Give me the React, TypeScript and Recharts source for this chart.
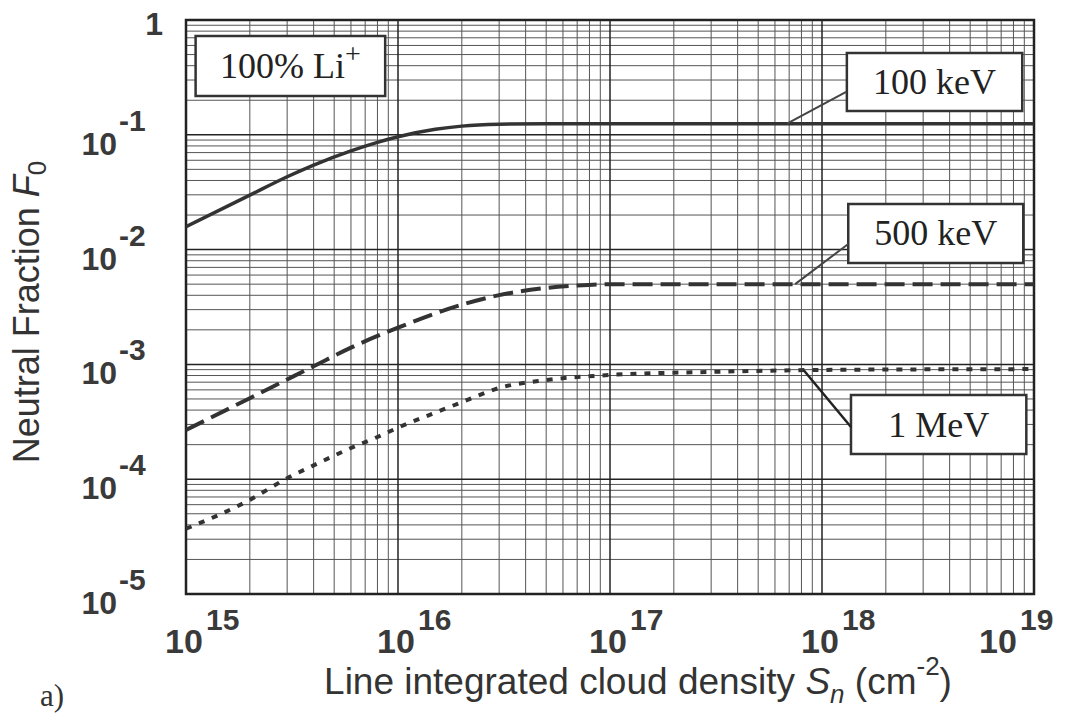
import React from 'react';
import {
  LineChart,
  Line,
  XAxis,
  YAxis,
  ReferenceArea,
  ReferenceLine,
  Label,
} from 'recharts';

// Line integrated cloud density (cm^-2) samples for each beam energy
const density100keV = [1e15, 2e15, 3e15, 4e15, 6e15, 8e15, 1e16, 1.5e16, 2e16, 3e16, 5e16, 1e17, 1e18, 1e19];
const fraction100keV = [0.0158, 0.0298, 0.0431, 0.0545, 0.0724, 0.0859, 0.0961, 0.1116, 0.119, 0.1236, 0.125, 0.125, 0.125, 0.125];

const density500keV = [1e15, 2e15, 3e15, 4e15, 6e15, 1e16, 2e16, 3e16, 5e16, 7e16, 1e17, 1e18, 1e19];
const fraction500keV = [2.68e-4, 5.08e-4, 7.39e-4, 9.64e-4, 1.4e-3, 2.09e-3, 3.31e-3, 4.01e-3, 4.63e-3, 4.87e-3, 5.0e-3, 5.0e-3, 5.0e-3];

const density1MeV = [1e15, 2e15, 3e15, 4e15, 6e15, 8e15, 1e16, 1.5e16, 2e16, 3e16, 5e16, 1e17, 3e17, 1e18, 1e19];
const fraction1MeV = [3.7e-5, 6.6e-5, 1.02e-4, 1.32e-4, 1.87e-4, 2.33e-4, 2.81e-4, 3.8e-4, 4.69e-4, 6.23e-4, 7.31e-4, 8.09e-4, 8.6e-4, 8.95e-4, 9.1e-4];

// decade ticks
const xTicks = [1e15, 1e16, 1e17, 1e18, 1e19];
const yTicks = [1e-5, 1e-4, 1e-3, 1e-2, 1e-1, 1];

// minor grid: 2..9 inside every decade
const minorSteps = [2, 3, 4, 5, 6, 7, 8, 9];
const xMinor = xTicks.slice(0, -1).flatMap((d) => minorSteps.map((k) => k * d));
const yMinor = yTicks.slice(0, -1).flatMap((d) => minorSteps.map((k) => k * d));

const toPoints = (s: number[], f: number[]) => s.map((v, i) => ({ s: v, f: f[i] }));

const INK = '#333';
const SANS = '"Liberation Sans", Arial, sans-serif';
const SERIF = '"Liberation Serif", "Times New Roman", serif';

const XTick = ({ x, y, payload }: any) => {
  const e = Math.round(Math.log10(payload.value));
  return (
    <g fill="#3a3a3a" fontFamily={SANS} fontWeight="bold">
      <text x={x - 2} y={y + 59} textAnchor="middle" fontSize={34}>10</text>
      <text x={x + 20} y={y + 36} fontSize={30}>{e}</text>
    </g>
  );
};

const YTick = ({ x, y, payload }: any) => {
  const e = Math.round(Math.log10(payload.value));
  if (e === 0) {
    return (
      <text x={x - 23} y={y + 15} textAnchor="end" fontSize={32} fontWeight="bold" fontFamily={SANS} fill="#3a3a3a">
        1
      </text>
    );
  }
  return (
    <g fill="#3a3a3a" fontFamily={SANS} fontWeight="bold">
      <text x={x - 69} y={y + 20} textAnchor="end" fontSize={32}>10</text>
      <text x={x - 67} y={y - 4} fontSize={30}>{e}</text>
    </g>
  );
};

const boxText = (text: string, sup?: string) => (props: any) => {
  const { x, y, width, height } = props.viewBox;
  return (
    <text
      x={x + width / 2}
      y={y + height / 2 + 12}
      textAnchor="middle"
      fontFamily={SERIF}
      fontSize={36}
      fill="#222"
    >
      {text}
      {sup && (
        <tspan dy={-15} fontSize={28}>
          {sup}
        </tspan>
      )}
    </text>
  );
};

const XTitle = () => (
  <g fill={INK}>
    <text x={638} y={694} textAnchor="middle" fontFamily={SANS} fontSize={37}>
      Line integrated cloud density{' '}
      <tspan fontStyle="italic">S</tspan>
      <tspan fontStyle="italic" fontSize={26} dy={9}>n</tspan>
      <tspan dy={-9}> (cm</tspan>
      <tspan fontSize={26} dy={-19}>-2</tspan>
      <tspan dy={19}>)</tspan>
    </text>
    <text x={40} y={706} fontFamily={SERIF} fontSize={31}>a)</text>
  </g>
);

const YTitle = () => (
  <text
    x={39}
    y={312}
    transform="rotate(-90, 39, 312)"
    textAnchor="middle"
    fontFamily={SANS}
    fontSize={36}
    fill={INK}
  >
    Neutral Fraction <tspan fontStyle="italic">F</tspan>
    <tspan fontSize={26} dy={7}>0</tspan>
  </text>
);

export default function App() {
  return (
    <div style={{ position: 'absolute', left: 0, top: 0, width: 1080, height: 722, background: '#fff' }}>
      <LineChart width={1080} height={722} margin={{ top: 20, right: 46, bottom: 0, left: 0 }}>
        <XAxis
          dataKey="s"
          type="number"
          scale="log"
          domain={[1e15, 1e19]}
          ticks={xTicks}
          allowDataOverflow
          height={128}
          axisLine={false}
          tickLine={false}
          tickSize={0}
          tickMargin={0}
          tick={<XTick />}
        >
          <Label content={<XTitle />} />
        </XAxis>
        <YAxis
          dataKey="f"
          type="number"
          scale="log"
          domain={[1e-5, 1]}
          ticks={yTicks}
          allowDataOverflow
          width={186}
          axisLine={false}
          tickLine={false}
          tickSize={0}
          tickMargin={0}
          tick={<YTick />}
        >
          <Label content={<YTitle />} />
        </YAxis>

        {/* log grid: minor lines, then decade lines */}
        {xMinor.map((v) => (
          <ReferenceLine key={`xm${v}`} x={v} stroke="#555" strokeWidth={1} zIndex={-100} />
        ))}
        {yMinor.map((v) => (
          <ReferenceLine key={`ym${v}`} y={v} stroke="#555" strokeWidth={1} zIndex={-100} />
        ))}
        {xTicks.map((v) => (
          <ReferenceLine key={`xM${v}`} x={v} stroke="#222" strokeWidth={1.5} zIndex={-100} />
        ))}
        {yTicks.map((v) => (
          <ReferenceLine key={`yM${v}`} y={v} stroke="#222" strokeWidth={1.5} zIndex={-100} />
        ))}

        <Line
          data={toPoints(density100keV, fraction100keV)}
          dataKey="f"
          type="monotone"
          stroke={INK}
          strokeWidth={3.5}
          dot={false}
          isAnimationActive={false}
        />
        <Line
          data={toPoints(density500keV, fraction500keV)}
          dataKey="f"
          type="monotone"
          stroke={INK}
          strokeWidth={4}
          strokeDasharray="20 8"
          dot={false}
          isAnimationActive={false}
        />
        <Line
          data={toPoints(density1MeV, fraction1MeV)}
          dataKey="f"
          type="monotone"
          stroke={INK}
          strokeWidth={4}
          strokeDasharray="6 8"
          dot={false}
          isAnimationActive={false}
        />

        {/* leader lines from the curve labels */}
        <ReferenceLine segment={[{ x: 1.3e18, y: 0.236 }, { x: 6.84e17, y: 0.125 }]} stroke="#444" strokeWidth={2} />
        <ReferenceLine segment={[{ x: 1.33e18, y: 0.0112 }, { x: 7.47e17, y: 5.0e-3 }]} stroke="#444" strokeWidth={2} />
        <ReferenceLine segment={[{ x: 1.37e18, y: 2.85e-4 }, { x: 8.2e17, y: 8.9e-4 }]} stroke="#222" strokeWidth={2.5} />

        {/* label boxes */}
        <ReferenceArea x1={1.11e15} x2={8.7e15} y1={0.218} y2={0.726} fill="#fff" fillOpacity={1} stroke={INK} strokeWidth={2.5}>
          <Label content={boxText('100% Li', '+')} />
        </ReferenceArea>
        <ReferenceArea x1={1.31e18} x2={8.8e18} y1={0.161} y2={0.516} fill="#fff" fillOpacity={1} stroke={INK} strokeWidth={2.5}>
          <Label content={boxText('100 keV')} />
        </ReferenceArea>
        <ReferenceArea x1={1.33e18} x2={8.9e18} y1={7.64e-3} y2={0.025} fill="#fff" fillOpacity={1} stroke={INK} strokeWidth={2.5}>
          <Label content={boxText('500 keV')} />
        </ReferenceArea>
        <ReferenceArea x1={1.37e18} x2={9.2e18} y1={1.66e-4} y2={5.4e-4} fill="#fff" fillOpacity={1} stroke={INK} strokeWidth={2.5}>
          <Label content={boxText('1 MeV')} />
        </ReferenceArea>

        {/* plot frame */}
        <ReferenceArea x1={1e15} x2={1e19} y1={1e-5} y2={1} fill="none" stroke="#222" strokeWidth={2.5} />
      </LineChart>
    </div>
  );
}
